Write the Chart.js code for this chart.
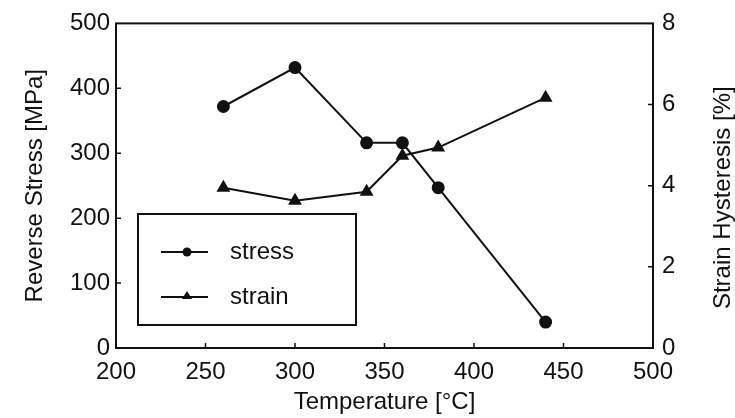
<!DOCTYPE html>
<html>
<head>
<meta charset="utf-8">
<script src="https://cdn.jsdelivr.net/npm/chart.js@4.4.1/dist/chart.umd.min.js"></script>
<style>
  html, body { margin: 0; padding: 0; background: #fff; }
  #wrap { width: 735px; height: 418px; }
</style>
</head>
<body>
<div id="wrap"><canvas id="chart"></canvas></div>
<script>
const temperatures = [260, 300, 340, 360, 380, 440];
const stressValues = [372, 432, 316, 316, 247, 40];
const strainValues = [3.95, 3.63, 3.85, 4.74, 4.94, 6.17];

const xTicks = [200, 250, 300, 350, 400, 450, 500];
const leftTicks = [0, 100, 200, 300, 400, 500];
const rightTicks = [0, 2, 4, 6, 8];
const rightTitle = 'Strain Hysteresis [%]';

const ink = '#111';
const font = 'Liberation Sans, Arial, Helvetica, sans-serif';

// frame, inward tick marks, right title (reads bottom-up) and the boxed legend
const framePlugin = {
  id: 'frame',
  afterDraw(chart) {
    const { ctx, chartArea: a, scales } = chart;
    ctx.save();
    ctx.strokeStyle = ink;
    ctx.lineWidth = 2;
    ctx.strokeRect(a.left, a.top, a.right - a.left, a.bottom - a.top);

    ctx.lineWidth = 1.5;
    ctx.beginPath();
    xTicks.slice(1, -1).forEach((v) => {
      const x = scales.x.getPixelForValue(v);
      ctx.moveTo(x, a.bottom);
      ctx.lineTo(x, a.bottom - 5);
    });
    leftTicks.slice(1, -1).forEach((v) => {
      const y = scales.y.getPixelForValue(v);
      ctx.moveTo(a.left, y);
      ctx.lineTo(a.left + 5, y);
    });
    rightTicks.slice(1, -1).forEach((v) => {
      const y = scales.y1.getPixelForValue(v);
      ctx.moveTo(a.right, y);
      ctx.lineTo(a.right - 5, y);
    });
    ctx.stroke();

    ctx.save();
    ctx.translate(723, (a.top + a.bottom) / 2 + 12);
    ctx.rotate(-Math.PI / 2);
    ctx.fillStyle = ink;
    ctx.font = '24px ' + font;
    ctx.textAlign = 'center';
    ctx.textBaseline = 'middle';
    ctx.fillText(rightTitle, 0, 0);
    ctx.restore();

    // legend box
    const bx = 138, by = 214, bw = 218, bh = 111;
    ctx.fillStyle = '#fff';
    ctx.fillRect(bx, by, bw, bh);
    ctx.lineWidth = 2;
    ctx.strokeRect(bx, by, bw, bh);
    const rows = [252, 297];
    chart.data.datasets.forEach((ds, i) => {
      const y = rows[i];
      ctx.lineWidth = 2;
      ctx.beginPath();
      ctx.moveTo(161, y);
      ctx.lineTo(208, y);
      ctx.stroke();
      ctx.fillStyle = ink;
      ctx.beginPath();
      if (ds.pointStyle === 'triangle') {
        ctx.moveTo(187, y - 6);
        ctx.lineTo(192, y + 2);
        ctx.lineTo(182, y + 2);
        ctx.closePath();
      } else {
        ctx.arc(187, y, 4.5, 0, Math.PI * 2);
      }
      ctx.fill();
      ctx.font = '24px ' + font;
      ctx.textBaseline = 'middle';
      ctx.textAlign = 'left';
      ctx.fillText(ds.label, 230, y);
    });
    ctx.restore();
  },
};

new Chart(document.getElementById('chart'), {
  type: 'line',
  data: {
    datasets: [
      {
        label: 'stress',
        data: temperatures.map((t, i) => ({ x: t, y: stressValues[i] })),
        yAxisID: 'y',
        borderColor: ink,
        backgroundColor: ink,
        borderWidth: 2,
        pointStyle: 'circle',
        pointRadius: 5.5,
        tension: 0,
      },
      {
        label: 'strain',
        data: temperatures.map((t, i) => ({ x: t, y: strainValues[i] })),
        yAxisID: 'y1',
        borderColor: ink,
        backgroundColor: ink,
        borderWidth: 2,
        pointStyle: 'triangle',
        pointRadius: 6,
        tension: 0,
      },
    ],
  },
  options: {
    responsive: true,
    maintainAspectRatio: false,
    animation: false,
    layout: { padding: { top: 22, left: 0, right: 0, bottom: 0 } },
    plugins: {
      legend: { display: false },
      tooltip: { enabled: false },
    },
    scales: {
      x: {
        type: 'linear',
        min: 200,
        max: 500,
        afterBuildTicks: (scale) => { scale.ticks = xTicks.map((v) => ({ value: v })); },
        afterFit: (scale) => { scale.height = 70; },
        grid: { display: false, drawTicks: false },
        border: { display: false },
        ticks: { color: ink, padding: 10, font: { family: font, size: 24 } },
        title: {
          display: true,
          text: 'Temperature [°C]',
          color: ink,
          padding: { top: 0, bottom: 4 },
          font: { family: font, size: 24, lineHeight: 1 },
        },
      },
      y: {
        position: 'left',
        min: 0,
        max: 500,
        afterBuildTicks: (scale) => { scale.ticks = leftTicks.map((v) => ({ value: v })); },
        afterFit: (scale) => { scale.width = 116; },
        grid: { display: false, drawTicks: false },
        border: { display: false },
        ticks: { color: ink, padding: 6, font: { family: font, size: 24 } },
        title: {
          display: true,
          text: 'Reverse Stress [MPa]',
          color: ink,
          padding: { top: 23, bottom: 0 },
          font: { family: font, size: 24, lineHeight: 1 },
        },
      },
      y1: {
        position: 'right',
        min: 0,
        max: 8,
        afterBuildTicks: (scale) => { scale.ticks = rightTicks.map((v) => ({ value: v })); },
        afterFit: (scale) => { scale.width = 82; },
        grid: { display: false, drawTicks: false },
        border: { display: false },
        ticks: { color: ink, padding: 9, font: { family: font, size: 24 } },
      },
    },
  },
  plugins: [framePlugin],
});
</script>
</body>
</html>
